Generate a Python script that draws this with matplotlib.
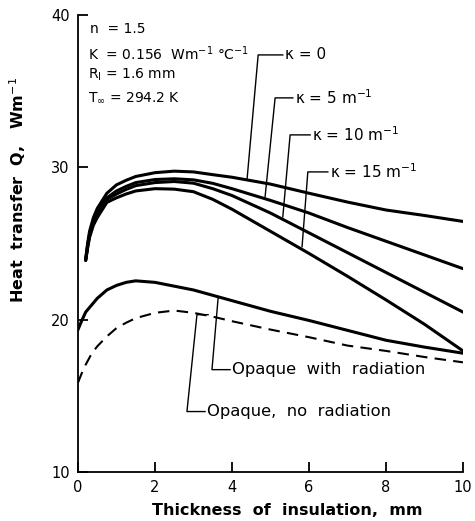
import matplotlib
matplotlib.use("Agg")
import matplotlib.pyplot as plt

# ---- data ----
x_kappa = [0.2, 0.25, 0.3, 0.4, 0.5, 0.75, 1.0, 1.25, 1.5, 2.0, 2.5, 3.0, 3.5, 4.0,
           5.0, 6.0, 7.0, 8.0, 9.0, 10.0]
q_k0  = [24.0, 25.0, 25.8, 26.7, 27.3, 28.3, 28.85, 29.15, 29.4, 29.65, 29.75, 29.7, 29.52, 29.35,
         28.9, 28.3, 27.72, 27.2, 26.84, 26.45]
q_k5  = [23.9, 24.9, 25.6, 26.5, 27.0, 28.0, 28.45, 28.75, 29.0, 29.2, 29.25, 29.18, 28.95, 28.6,
         27.83, 27.0, 26.05, 25.15, 24.25, 23.35]
q_k10 = [23.9, 24.8, 25.5, 26.4, 26.9, 27.9, 28.25, 28.55, 28.8, 29.0, 29.07, 28.96, 28.6, 28.15,
         27.0, 25.7, 24.4, 23.1, 21.8, 20.5]
q_k15 = [23.9, 24.7, 25.4, 26.2, 26.7, 27.7, 28.0, 28.25, 28.45, 28.6, 28.57, 28.4, 27.9, 27.25,
         25.8, 24.35, 22.85, 21.3, 19.7, 17.95]

x_opaque = [0.0, 0.1, 0.2, 0.35, 0.5, 0.75, 1.0, 1.25, 1.5, 2.0, 2.5, 3.0, 3.5, 4.0,
            5.0, 6.0, 7.0, 8.0, 9.0, 10.0]
q_opaque_rad   = [19.35, 19.95, 20.5, 20.95, 21.4, 21.95, 22.25, 22.45, 22.55, 22.45, 22.2, 21.95, 21.6, 21.25,
                  20.55, 19.95, 19.3, 18.65, 18.2, 17.8]
q_opaque_norad = [15.87, 16.5, 17.05, 17.75, 18.25, 18.9, 19.45, 19.8, 20.1, 20.45, 20.6, 20.45, 20.2, 19.9,
                  19.35, 18.85, 18.3, 17.95, 17.55, 17.2]

kappa_labels = ["κ = 0", "κ = 5 m$^{-1}$", "κ = 10 m$^{-1}$", "κ = 15 m$^{-1}$"]
x_ticks = [0, 2, 4, 6, 8, 10]
y_ticks = [10, 20, 30, 40]

plt.rcParams['font.family'] = ['DejaVu Sans']
plt.rcParams['mathtext.fontset'] = 'dejavusans'

fig = plt.figure(figsize=(4.75, 5.21), dpi=100)
ax = fig.add_axes([0.1642, 0.0940, 0.8105, 0.8772])

lw = 2.2
for q in (q_k0, q_k5, q_k10, q_k15):
    ax.plot(x_kappa, q, color='black', lw=lw, solid_capstyle='round', solid_joinstyle='round')
ax.plot(x_opaque, q_opaque_rad, color='black', lw=lw, solid_joinstyle='round')
ax.plot(x_opaque, q_opaque_norad, color='black', lw=1.5, dashes=(5.5, 3.5))

# leader lines for kappa labels
leaders = [
    ((4.39, 29.18), (4.68, 37.38), 5.32),
    ((4.86, 28.07), (5.12, 34.56), 5.58),
    ((5.32, 26.75), (5.51, 32.13), 6.03),
    ((5.82, 24.79), (5.97, 29.70), 6.49),
]
for (p0, p1, xe), lab in zip(leaders, kappa_labels):
    ax.plot([p0[0], p1[0], xe], [p0[1], p1[1], p1[1]], color='black', lw=1.0)
    ax.text(xe + 0.05, p1[1], lab, fontsize=11, va='center', ha='left')

# opaque leaders
ax.plot([3.64, 3.48, 3.95], [21.44, 16.72, 16.72], color='black', lw=1.0)
ax.text(4.0, 16.72, "Opaque  with  radiation", fontsize=11.8, va='center', ha='left')
ax.plot([3.38, 3.09, 2.83, 3.30], [20.33, 20.33, 13.97, 13.97], color='black', lw=1.0)
ax.text(3.35, 13.97, "Opaque,  no  radiation", fontsize=11.8, va='center', ha='left')

# parameter block
ax.text(0.32, 39.05, "n  = 1.5", fontsize=10, va='center', ha='left')
ax.text(0.26, 37.45, "K  = 0.156  Wm$^{-1}$ °C$^{-1}$", fontsize=10, va='center', ha='left')
ax.text(0.26, 36.05, "R$_\\mathrm{I}$ = 1.6 mm", fontsize=10, va='center', ha='left')
ax.text(0.26, 34.55, "T$_\\infty$ = 294.2 K", fontsize=10, va='center', ha='left')

ax.set_xlim(0, 10)
ax.set_ylim(10, 40)
ax.set_xticks(x_ticks)
ax.set_yticks(y_ticks)
ax.spines['top'].set_visible(False)
ax.spines['right'].set_visible(False)
ax.spines['left'].set_linewidth(1.3)
ax.spines['bottom'].set_linewidth(1.3)
ax.tick_params(direction='in', length=7, width=1.3, labelsize=10.5, pad=6)

fig.text(0.605, 0.021, "Thickness  of  insulation,  mm", fontsize=11.5, fontweight='bold',
         ha='center', va='center')
fig.text(0.038, 0.635, "Heat  transfer  Q,   Wm$^{-1}$", fontsize=11.5, fontweight='bold',
         ha='center', va='center', rotation=90)

fig.savefig("out.png", dpi=100)
